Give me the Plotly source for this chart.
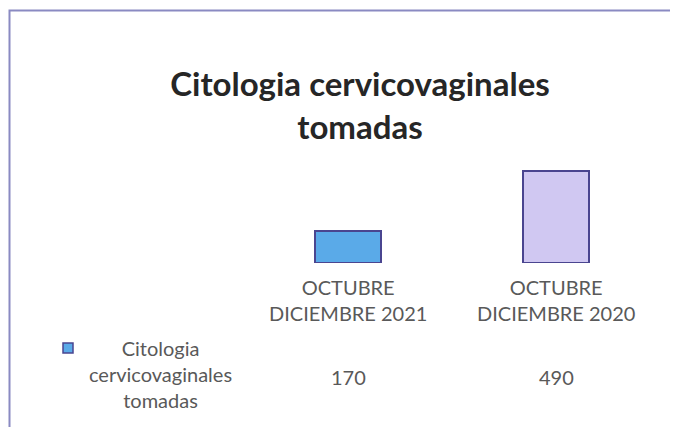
import plotly.graph_objects as go

categories = ["OCTUBRE<br>DICIEMBRE 2021", "OCTUBRE<br>DICIEMBRE 2020"]
values = [170, 490]
series_name = "Citologia<br>cervicovaginales<br>tomadas"
title_text = "Citologia cervicovaginales<br>tomadas"

bar_colors = ["#5AAAE8", "#D0C8F2"]
line_color = "#4A4590"

# the page body has an 8px margin, so the figure is drawn at (8, 8)
OFF = 8
W, H = 678 - OFF, 427 - OFF


def px(x):
    return (x - OFF) / W


def py(y):
    return 1 - (y - OFF) / H


fig = go.Figure()
fig.add_trace(go.Bar(
    x=categories, y=values, width=0.32,
    marker=dict(color=bar_colors, line=dict(color=line_color, width=2)),
    showlegend=False, hoverinfo="skip",
))

font_family = "Lato, 'Open Sans', sans-serif"
txt_font = dict(family=font_family, size=20, color="#595959")
annotations = []
for c, v in zip(categories, values):
    annotations.append(dict(x=c, y=py(300), xref="x", yref="paper", text=c,
                            showarrow=False, font=txt_font, align="center",
                            xanchor="center", yanchor="middle"))
    annotations.append(dict(x=c, y=py(377), xref="x", yref="paper", text=str(v),
                            showarrow=False, font=txt_font, xanchor="center", yanchor="middle"))
annotations.append(dict(x=px(160), y=py(374), xref="paper", yref="paper", text=series_name,
                        showarrow=False, align="center", xanchor="center", yanchor="middle",
                        font=txt_font))

shapes = [
    dict(type="rect", xref="paper", yref="paper", x0=px(9.5), x1=1.05, y0=-0.05, y1=py(10.5),
         line=dict(color="#8A8AC2", width=2), fillcolor="rgba(0,0,0,0)"),
    dict(type="rect", xref="paper", yref="paper", x0=px(63), x1=px(73), y0=py(353), y1=py(343),
         line=dict(color=line_color, width=1.5), fillcolor=bar_colors[0]),
]

fig.update_layout(
    width=W, height=H,
    margin=dict(l=0, r=0, t=0, b=0),
    paper_bgcolor="white", plot_bgcolor="white",
    title=dict(text=title_text, x=px(360), xanchor="center", y=py(96), yanchor="middle",
               yref="container",
               font=dict(family=font_family, size=33, color="#262626", weight="bold")),
    xaxis=dict(domain=[px(244), px(660)], showticklabels=False, showline=False, showgrid=False,
               zeroline=False, ticks=""),
    yaxis=dict(domain=[py(263), py(150)], range=[0, 600], visible=False),
    annotations=annotations,
    shapes=shapes,
    bargap=0,
)

fig.write_html("out.html")
